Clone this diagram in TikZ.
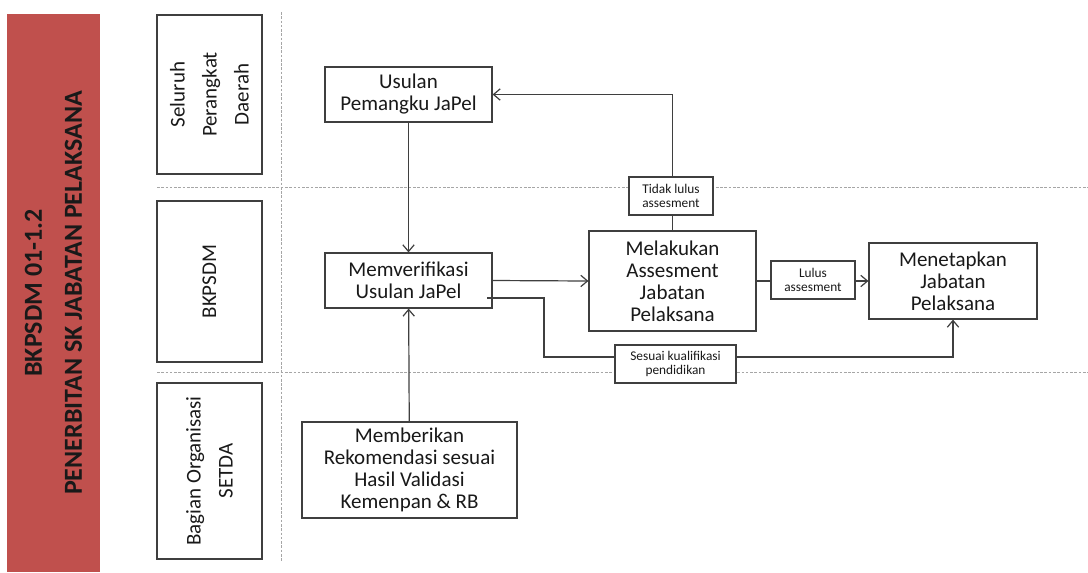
\documentclass[tikz,border=0pt]{standalone}
\usepackage{fontspec}
\setmainfont{Carlito}
\usetikzlibrary{arrows.meta}
\definecolor{banner}{HTML}{C0504D}
\definecolor{edge}{HTML}{3F3F3F}
\definecolor{sep}{HTML}{A6A6A6}

\begin{document}
\begin{tikzpicture}[x=0.75pt,y=-0.75pt,
  every node/.style={inner sep=0pt,align=center,text=black!90},
  lane/.style={draw=edge,line width=0.9pt,rotate=90,minimum height=78.75pt,font=\fontsize{15.75}{24}\selectfont},
  proc/.style={draw=edge,line width=0.9pt,fill=white,font=\fontsize{15.75}{16.5}\selectfont},
  lbl/.style={draw=edge,line width=0.9pt,fill=white,minimum height=28.5pt,font=\fontsize{10}{10}\selectfont},
  flow/.style={draw=edge,line width=0.9pt,-{Straight Barb[length=5pt,width=8.5pt]}},
  line/.style={draw=edge,line width=0.9pt},
  sepline/.style={draw=sep,line width=0.6pt,dash pattern=on 2pt off 1.2pt}]
\useasboundingbox (0,0) rectangle (1088,572);
% banner
\node[rotate=90,fill=banner,minimum width=418.5pt,minimum height=69.75pt,
  font=\fontsize{19.5}{30}\selectfont\bfseries] (title) at (53.5,293)
  {BKPSDM 01-1.2\\PENERBITAN SK JABATAN PELAKSANA};
% swimlanes
\draw[sepline] (157,187) -- (1088,187);
\draw[sepline] (157,372) -- (1088,372);
\draw[sepline] (281,12) -- (281,561);
\node[lane,minimum width=119.25pt] (laneA) at (209.5,94.5) {Seluruh\\Perangkat\\Daerah};
\node[lane,minimum width=120.75pt] (laneB) at (209.5,281.5) {BKPSDM};
\node[lane,minimum width=132pt] (laneC) at (209.5,471) {Bagian Organisasi\\SETDA};
% steps
\node[proc,minimum width=125.25pt,minimum height=41.25pt] (usulan) at (408.5,94.5) {Usulan\\Pemangku JaPel};
\node[proc,minimum width=125.25pt,minimum height=41.25pt] (verif) at (408.5,280.5) {Memverifikasi\\Usulan JaPel};
\node[proc,minimum width=161.25pt,minimum height=72pt] (rekom) at (409.5,470) {Memberikan\\Rekomendasi sesuai\\Hasil Validasi\\Kemenpan \& RB};
\node[proc,minimum width=125.25pt,minimum height=75pt] (assess) at (672.5,281) {Melakukan\\Assesment\\Jabatan\\Pelaksana};
\node[proc,minimum width=126pt,minimum height=57pt] (tetap) at (953,281) {Menetapkan\\Jabatan\\Pelaksana};
% flows
\coordinate (vout) at (487,298);
\coordinate (bend) at (544,357);
\draw[flow] (usulan) -- (verif);
\draw[flow] (rekom) -- (verif);
\draw[flow] (verif.east) -- (assess.west);
\draw[flow] (assess.north) |- (usulan.east);
\draw[flow] (assess.east) -- (tetap.west);
\draw[flow] (vout) -| (bend) -| (tetap.south);
\node[lbl,minimum width=63pt] (tidak) at (671,196) {Tidak lulus\\assesment};
\node[lbl,minimum width=63pt] (lulus) at (813,280) {Lulus\\assesment};
\node[lbl,minimum width=90.75pt] (sesuai) at (675.5,364) {Sesuai kualifikasi\\pendidikan};
\end{tikzpicture}
\end{document}
